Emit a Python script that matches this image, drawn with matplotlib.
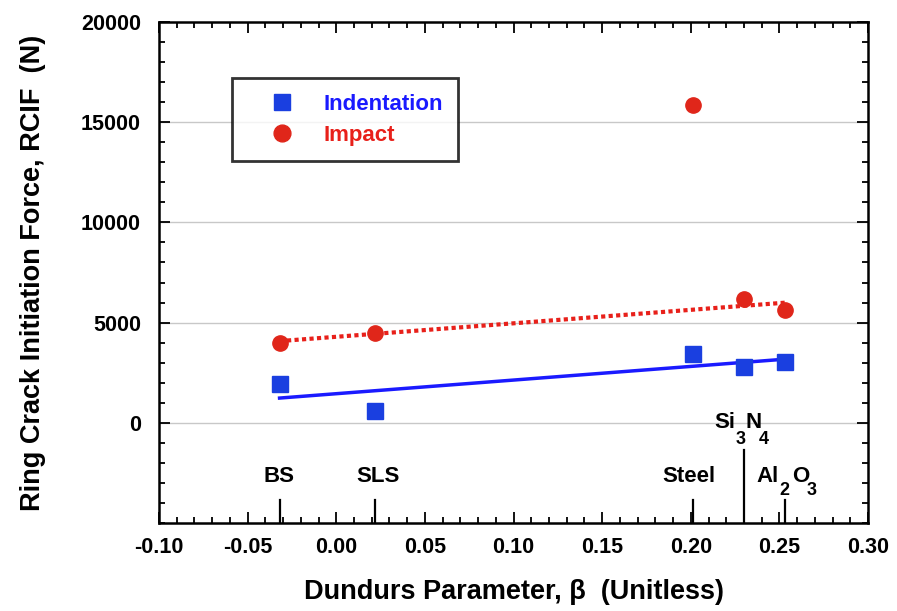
import numpy as np
import matplotlib.pyplot as plt
from matplotlib.ticker import MultipleLocator, FixedLocator, FuncFormatter
import matplotlib.transforms as mtransforms

plt.rcParams.update({
    "font.family": ["Liberation Sans", "DejaVu Sans"],
    "font.weight": "bold",
    "axes.labelweight": "bold",
})

# --- data ---
materials = ["BS", "SLS", "Steel", "Si3N4", "Al2O3"]
beta = [-0.032, 0.022, 0.201, 0.230, 0.253]
indentation = [1950, 600, 3450, 2800, 3050]
impact = [4000, 4500, 15850, 6200, 5650]

beta = np.array(beta)
indentation = np.array(indentation)
impact = np.array(impact)

# linear fits (impact fit leaves out the steel outlier)
fit_ind = np.polyfit(beta, indentation, 1)
keep = np.array([True, True, False, True, True])
fit_imp = np.polyfit(beta[keep], impact[keep], 1)
xfit = np.array([beta.min(), beta.max()])

fig = plt.figure(figsize=(8.97, 6.11), dpi=100)
ax = fig.add_axes([0.1773, 0.144, 0.7904, 0.820])

for yg in [0, 5000, 10000, 15000]:
    ax.axhline(yg, color='#c8c8c8', linewidth=1.0, zorder=0)

ax.plot(xfit, np.polyval(fit_ind, xfit), color='#1a1aff', linewidth=2.5, zorder=2)
ax.plot(xfit, np.polyval(fit_imp, xfit), color='#e8201a', linewidth=3,
        linestyle=(0, (1, 0.8)), zorder=2)

sq, = ax.plot(beta, indentation, 's', color='#1a3fe0', markersize=11,
              linestyle='None', zorder=3)
ci, = ax.plot(beta, impact, 'o', color='#e0261a', markersize=11,
              linestyle='None', zorder=3)

ax.set_xlim(-0.10, 0.30)
ax.set_ylim(-5000, 20000)
ax.xaxis.set_major_locator(MultipleLocator(0.05))
ax.xaxis.set_minor_locator(MultipleLocator(0.01))
ax.xaxis.set_major_formatter(FuncFormatter(lambda v, p: f"{v:.2f}".replace("-0.00", "0.00")))
ax.yaxis.set_major_locator(FixedLocator([0, 5000, 10000, 15000, 20000]))
ax.yaxis.set_minor_locator(MultipleLocator(1000))
ax.tick_params(which='both', direction='in', top=True, right=True, width=1.3)
ax.tick_params(which='major', length=8, labelsize=15.5)
ax.tick_params(axis='x', which='major', pad=10)
ax.tick_params(axis='y', which='major', pad=13)
ax.tick_params(which='minor', length=4)
for s in ax.spines.values():
    s.set_linewidth(1.8)

# material markers along the bottom axis
trans = mtransforms.blended_transform_factory(ax.transData, ax.transAxes)
# label pieces: (text, dx px, dy px, ha, size) relative to the tick
pieces = {
    "BS": [("BS", -1, 0, 'center', 16)],
    "SLS": [("SLS", 3, 0, 'center', 16)],
    "Steel": [("Steel", -4, 0, 'center', 16)],
    "Si3N4": [("Si", -30, 0, 'left', 16), ("3", -3, -17, 'center', 13),
              ("N", 2, 0, 'left', 16), ("4", 20, -17, 'center', 13)],
    "Al2O3": [("Al", -28, 0, 'left', 16), ("2", 0, -14, 'center', 13),
              ("O", 7, 0, 'left', 16), ("3", 27, -14, 'center', 13)],
}
for name, b in zip(materials, beta):
    top = 0.146 if name == "Si3N4" else 0.046
    ypos = 0.2016 if name == "Si3N4" else 0.092
    ax.plot([b, b], [0, top], color='black', linewidth=1.6, transform=trans)
    for txt, dx, dy, ha, size in pieces[name]:
        ax.annotate(txt, xy=(b, ypos), xycoords=trans, xytext=(dx, dy),
                    textcoords='offset pixels', ha=ha, va='center', fontsize=size)

ax.set_xlabel("Dundurs Parameter, β  (Unitless)", fontsize=19.5, labelpad=15)
ax.set_ylabel("Ring Crack Initiation Force, RCIF  (N)", fontsize=19.5, labelpad=25)

leg = ax.legend([sq, ci], ["Indentation", "Impact"], loc='upper left',
                bbox_to_anchor=(0.103, 0.888), borderaxespad=0, frameon=True,
                fancybox=False, edgecolor='black', fontsize=16,
                handletextpad=0.3, borderpad=0.7, labelspacing=0.45,
                handlelength=3.1, markerscale=1.1)
leg.get_frame().set_linewidth(2)
leg.get_texts()[0].set_color('#1a1aff')
leg.get_texts()[1].set_color('#e8201a')

fig.savefig('out.png', dpi=100)
